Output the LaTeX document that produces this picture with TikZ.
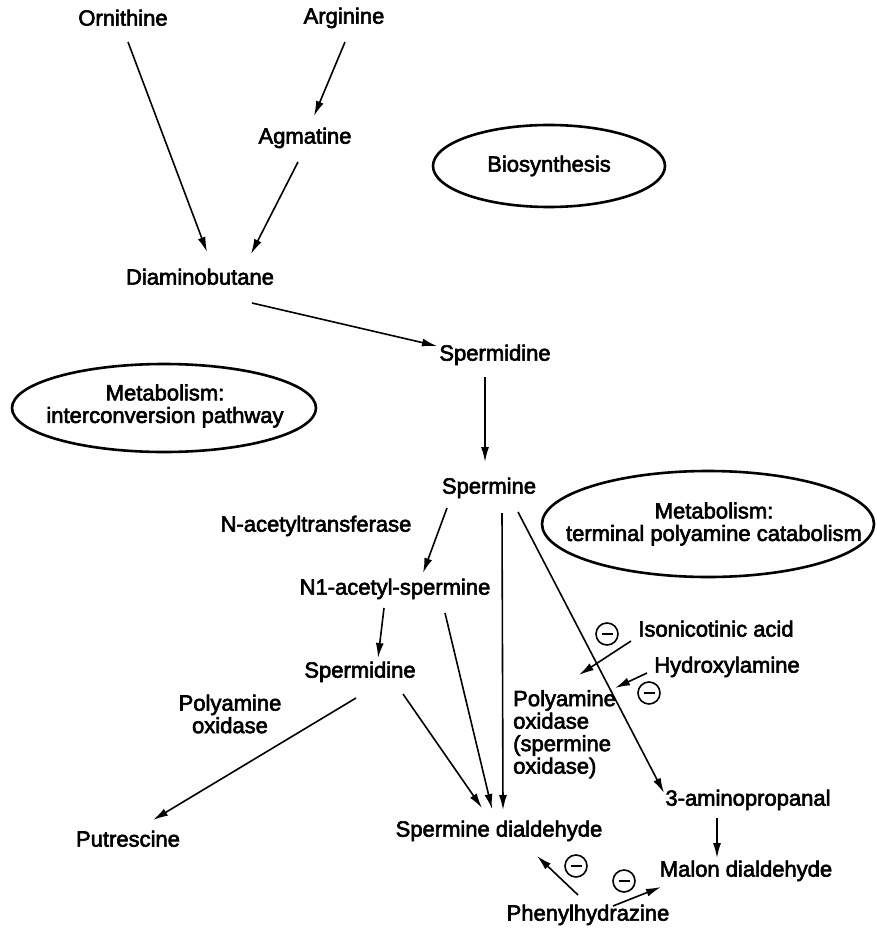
\documentclass[tikz,border=0pt]{standalone}
\usepackage{fontspec}
\newfontfamily\labfont{Liberation Sans}
\newcommand\heavytext{\special{pdf:literal direct 2 Tr 0.6 w}}
\usetikzlibrary{arrows.meta,shapes.geometric}
\begin{document}
\begin{tikzpicture}[x=1pt,y=-1pt,
  every node/.style={font=\heavytext\labfont\fontsize{22}{22.5}\selectfont, inner sep=0pt},
  sp/.style={text height=0.72em, text depth=0pt},
  arr/.style={line width=1.6pt, -{Latex[length=15pt,width=8pt]}},
  oval/.style={line width=2.6pt},
  inh/.style={circle, draw, line width=1.6pt, minimum size=22pt,
    path picture={\draw[line width=1.9pt] ([xshift=-5.5pt]path picture bounding box.center) -- ([xshift=5.5pt]path picture bounding box.center);}}
]
\useasboundingbox (0,0) rectangle (876,933);

% species
\node[sp] (orn) at (123,22) {Ornithine};
\node[sp] (arg) at (344,20) {Arginine};
\node[sp] (agm) at (305,140) {Agmatine};
\node[sp] (dab) at (200,281) {Diaminobutane};
\node[sp] (spd1) at (495,357) {Spermidine};
\node[sp] (spm) at (489,490) {Spermine};
\node[sp] (nat) at (316,528) {N-acetyltransferase};
\node[sp] (n1) at (395,591) {N1-acetyl-spermine};
\node[sp] (iso) at (716,633) {Isonicotinic acid};
\node[sp] (hyd) at (727,669) {Hydroxylamine};
\node[sp] (spd2) at (360,674) {Spermidine};
\node[align=center] (paoL) at (230,714) {Polyamine\\oxidase};
\node[align=left, anchor=north west] (paoR) at (513,690) {Polyamine\\oxidase\\(spermine\\oxidase)};
\node[sp] (ap3) at (748,802) {3-aminopropanal};
\node[sp] (sdd) at (499,833) {Spermine dialdehyde};
\node[sp] (put) at (128,843) {Putrescine};
\node[sp] (mdd) at (746,873) {Malon dialdehyde};
\node[sp] (phz) at (588,917) {Phenylhydrazine};

% ovals
\node[ellipse, draw, oval, minimum width=232pt, minimum height=82pt] (bioE) at (549,166) {};
\node (bio) at (bioE.center) {Biosynthesis};
\node[ellipse, draw, oval, minimum width=304pt, minimum height=88pt] (intE) at (164,408) {};
\node[align=center] (intc) at (165,406) {Metabolism:\\interconversion pathway};
\node[ellipse, draw, oval, minimum width=332pt, minimum height=106pt] (termE) at (708,524) {};
\node[align=center] (term) at (714,524) {Metabolism:\\terminal polyamine catabolism};

% inhibition marks
\node[inh] (m1) at (607,634) {};
\node[inh] (m2) at (649,693) {};
\node[inh] (m3) at (576,866) {};
\node[inh] (m4) at (624,881) {};

\coordinate (isoT) at (579,675);
\coordinate (hydT) at (615,688);

% arrows
\draw[arr] ([shift={(5,20)}]orn.center) -- ([shift={(7,-29)}]dab.center);
\draw[arr] ([shift={(1,22)}]arg.center) -- ([shift={(9,-24)}]agm.center);
\draw[arr] ([shift={(-7,22)}]agm.center) -- ([shift={(51,-27)}]dab.center);
\draw[arr] ([shift={(52,22)}]dab.center) -- ([shift={(-58,-11)}]spd1.center);
\draw[arr] ([shift={(-10,20)}]spd1.center) -- ([shift={(-4,-28)}]spm.center);
\draw[arr] ([shift={(-42,18)}]spm.center) -- ([shift={(28,-18)}]n1.center);
\draw[arr] ([shift={(13,23)}]spm.center) -- ([shift={(4,-23)}]sdd.center);
\draw[arr] ([shift={(29,22)}]spm.center) -- ([shift={(-84,-9)}]ap3.center);
\draw[arr] ([shift={(-11,17)}]n1.center) -- ([shift={(18,-16)}]spd2.center);
\draw[arr] ([shift={(50,22)}]n1.center) -- ([shift={(-7,-24)}]sdd.center);
\draw[arr] ([shift={(43,20)}]spd2.center) -- ([shift={(-17,-25)}]sdd.center);
\draw[arr] ([shift={(-4,24)}]spd2.center) -- ([shift={(25,-23)}]put.center);
\draw[arr] ([shift={(-31,16)}]ap3.center) -- ([shift={(-29,-15)}]mdd.center);
\draw[arr] ([shift={(-85,8)}]iso.center) -- (isoT);
\draw[arr] ([shift={(-80,4)}]hyd.center) -- (hydT);
\draw[arr] ([shift={(-10,-22)}]phz.center) -- ([shift={(38,23)}]sdd.center);
\draw[arr] ([shift={(25,-11)}]phz.center) -- ([shift={(-85,14)}]mdd.center);
\end{tikzpicture}
\end{document}
